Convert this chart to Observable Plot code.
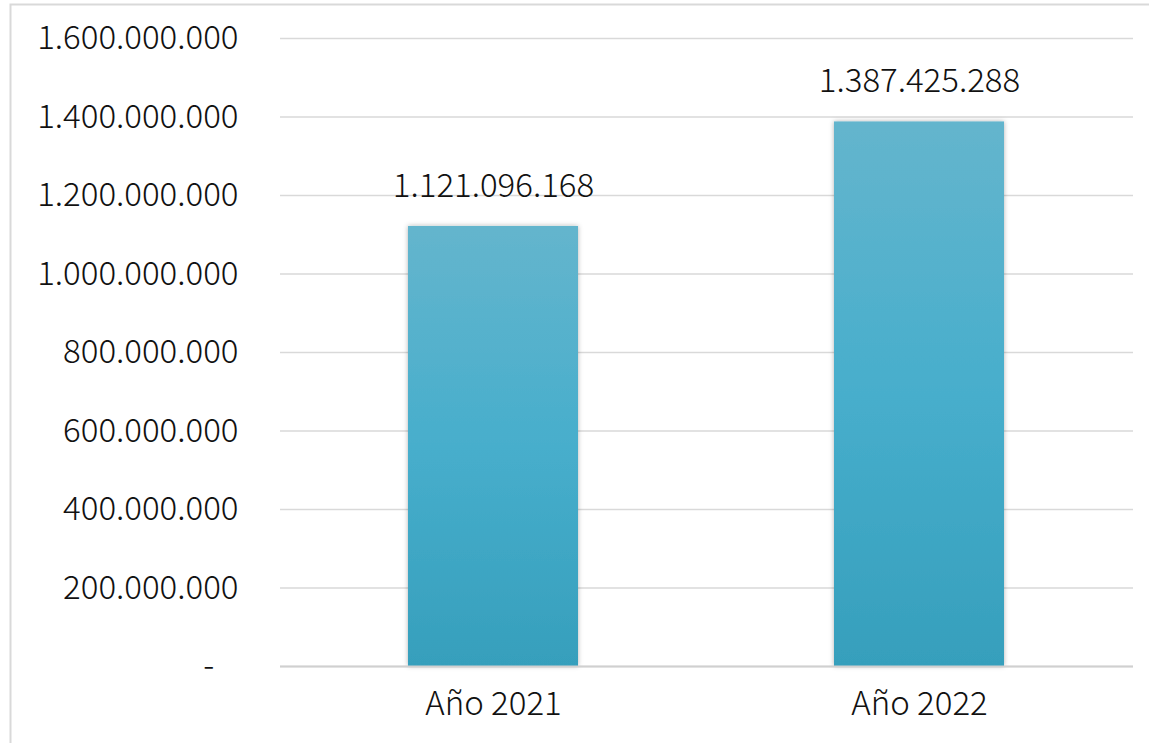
<!DOCTYPE html>
<html>
<head>
<meta charset="utf-8">
<script src="https://cdn.jsdelivr.net/npm/d3@7"></script>
<script src="https://cdn.jsdelivr.net/npm/@observablehq/plot@0.6"></script>
<style>
  html, body { margin: 0; padding: 0; background: #fff; }
  #chart { position: relative; width: 1149px; height: 743px; overflow: hidden; }
</style>
</head>
<body>
<div id="chart"></div>
<script>
const years = ["Año 2021", "Año 2022"];
const values = [1121096168, 1387425288];
const yTicks = [0, 200000000, 400000000, 600000000, 800000000, 1000000000, 1200000000, 1400000000, 1600000000];

const data = years.map((year, i) => ({year, value: values[i]}));
const locale = d3.formatLocale({decimal: ",", thousands: ".", grouping: [3], currency: ["", ""]});
const fmt = locale.format(",d");
const tickFmt = v => v === 0 ? "-\u2007\u2009" : fmt(v);

const font = "'Noto Sans CJK JP', 'Noto Sans', sans-serif";
const fs = 33;

const plot = Plot.plot({
  width: 1149,
  height: 743,
  marginLeft: 280,
  marginRight: 16,
  marginTop: 38,
  marginBottom: 77,
  style: {fontFamily: font, fontSize: fs + "px", fontWeight: 300, color: "#111", background: "transparent"},
  x: {domain: years, paddingInner: 0.6, paddingOuter: 0.3, label: null},
  y: {domain: [0, 1600000000], label: null},
  marks: [
    Plot.gridY(yTicks, {stroke: "#d9d9d9", strokeOpacity: 1, strokeWidth: 1.3}),
    Plot.barY(data, {x: "year", y: "value", fill: "url(#barGrad)"}),
    Plot.ruleY([0], {stroke: "#d0d0d0", strokeWidth: 2}),
    Plot.text(data, {x: "year", y: "value", text: d => fmt(d.value), dy: -40, fontSize: fs, fontWeight: 300, fill: "#111"}),
    Plot.axisY(yTicks, {tickSize: 0, tickPadding: 42, tickFormat: tickFmt, fontSize: fs, fontWeight: 300, fill: "#111", label: null}),
    Plot.axisX({tickSize: 0, tickPadding: 25, fontSize: fs, fontWeight: 300, fill: "#111", label: null})
  ]
});

const svg = d3.select(plot);
const defs = svg.insert("defs", ":first-child");
const grad = defs.append("linearGradient").attr("id", "barGrad").attr("x1", 0).attr("y1", 0).attr("x2", 0).attr("y2", 1);
grad.append("stop").attr("offset", "0%").attr("stop-color", "#64b5cd");
grad.append("stop").attr("offset", "50%").attr("stop-color", "#47aecc");
grad.append("stop").attr("offset", "100%").attr("stop-color", "#369fbc");
const filt = defs.append("filter").attr("id", "shadow").attr("x", "-10%").attr("y", "-10%").attr("width", "120%").attr("height", "120%");
filt.append("feDropShadow").attr("dx", 0).attr("dy", 0).attr("stdDeviation", 2.5).attr("flood-color", "#000").attr("flood-opacity", 0.3);
svg.selectAll("g[aria-label='bar'] rect").attr("filter", "url(#shadow)");
svg.append("rect").attr("x", 10.5).attr("y", 4.5).attr("width", 1300).attr("height", 900)
  .attr("fill", "none").attr("stroke", "#d9d9d9").attr("stroke-width", 2);

document.getElementById("chart").appendChild(plot);
</script>
</body>
</html>
